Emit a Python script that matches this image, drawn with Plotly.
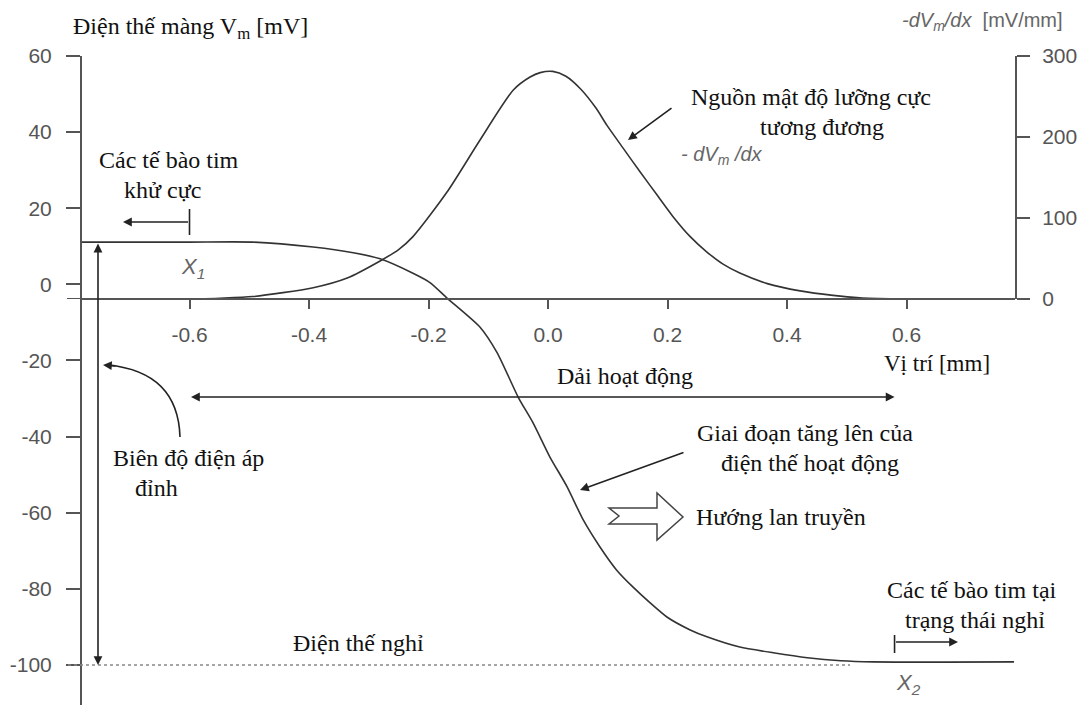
import plotly.graph_objects as go

# ---------------- data ----------------
# membrane potential Vm [mV] along position x [mm]
vm_x = [-0.78, -0.60, -0.494, -0.393, -0.326, -0.281, -0.226, -0.197, -0.169, -0.114,
        -0.085, -0.050, -0.025, 0.003, 0.032, 0.059, 0.087, 0.115, 0.142, 0.171,
        0.199, 0.238, 0.266, 0.321, 0.377, 0.434, 0.490, 0.544, 0.78]
vm_y = [11.1, 11.1, 11.1, 9.8, 8.3, 6.7, 2.9, 0.4, -3.6, -11.2,
        -18.0, -29.6, -36.4, -45.3, -53.2, -61.9, -69.0, -75.1, -79.5, -83.7,
        -87.4, -90.8, -92.6, -95.3, -96.8, -98.1, -98.9, -99.2, -99.2]

# equivalent dipole density source  -dVm/dx [mV/mm]
dv_x = [-0.600, -0.549, -0.494, -0.393, -0.336, -0.281, -0.250, -0.226, -0.169, -0.114,
        -0.058, -0.030, -0.013, 0.008, 0.030, 0.055, 0.080, 0.099, 0.126, 0.154,
        0.182, 0.209, 0.238, 0.266, 0.293, 0.321, 0.367, 0.422, 0.477, 0.522, 0.584]
dv_y = [0, 1, 3, 14, 26, 47, 61, 77, 132, 196,
        258, 274, 279.5, 281, 275, 259, 236, 214, 186, 157,
        129, 102, 77, 58, 43, 32, 19, 10, 4.5, 1.5, 0]

REST_POTENTIAL = -100          # mV
X1 = -0.60                     # mm, edge of active region (depolarized side)
X2 = 0.58                      # mm, edge of active region (resting side)
PLATEAU = 11.1                 # mV

x_ticks = [-0.6, -0.4, -0.2, 0.0, 0.2, 0.4, 0.6]
x_ticktext = ["-0.6", "-0.4", "-0.2", "0.0", "0.2", "0.4", "0.6"]
y_ticks = [60, 40, 20, 0, -20, -40, -60, -80, -100]
y_ticktext = ["60", "40", "20", "0", "-20", "-40", "-60", "-80", "-100"]
y2_ticks = [0, 100, 200, 300]
y2_ticktext = ["0", "100", "200", "300"]

# ---------------- geometry ----------------
W, H = 1079, 707
L, R, T, B = 82, 1015, 56, 705          # plot area in pixels
XR = [(L - 548.0) / 597.5, (R - 548.0) / 597.5]
Y_PX_PER = 3.806
YR = [60 - (B - T) / Y_PX_PER, 60]
Y2_BOTTOM_PX = 299
Y2_DOMAIN = [(B - Y2_BOTTOM_PX) / (B - T), 1.0]


def px2x(px):
    return XR[0] + (px - L) / (R - L) * (XR[1] - XR[0])


def py2y(py):
    return YR[1] - (py - T) / (B - T) * (YR[1] - YR[0])


def px2p(px):
    return (px - L) / (R - L)


def py2p(py):
    return (B - py) / (B - T)


SERIF = "Liberation Serif"
SANS = "Liberation Sans"
AX = "#555555"
CURVE = "#333333"
TXT = "#111111"
GRAY_TXT = "#666666"
FS = 24

fig = go.Figure()
fig.add_trace(go.Scatter(x=vm_x, y=vm_y, mode="lines", line=dict(color=CURVE, width=1.6, shape="spline", smoothing=0.6),
                         xaxis="x", yaxis="y", showlegend=False, hoverinfo="skip"))
fig.add_trace(go.Scatter(x=dv_x, y=dv_y, mode="lines", line=dict(color=CURVE, width=1.6, shape="spline", smoothing=0.7),
                         xaxis="x", yaxis="y2", showlegend=False, hoverinfo="skip"))

annotations = []


def text(px, py, s, size=FS, font=SERIF, color=TXT, xanchor="center"):
    annotations.append(dict(x=px2p(px), y=py2p(py), xref="paper", yref="paper", text=s, showarrow=False,
                            xanchor=xanchor, yanchor="middle",
                            font=dict(family=font, size=size, color=color)))


def arrow(x0, y0, x1, y1, both=False, width=1.6, head=2, size=1.1):
    a = dict(x=x1, y=y1, ax=x0, ay=y0, xref="x", yref="y", axref="x", ayref="y", text="",
             showarrow=True, arrowhead=head, arrowsize=size, arrowwidth=width, arrowcolor="#222222",
             standoff=0, startstandoff=0)
    if both:
        a.update(arrowside="end+start", startarrowhead=head, startarrowsize=size)
    annotations.append(a)


# axis titles
text(190, 28, "Điện thế màng V<sub>m</sub> [mV]")
text(982, 21, "<i>-dV<sub>m</sub>/dx</i>  [mV/mm]", size=20, font=SANS, color=GRAY_TXT)
text(937, 363, "Vị trí [mm]", size=23)

# labels
text(169, 160, "Các tế bào tim")
text(162, 190, "khử cực")
text(811, 97, "Nguồn mật độ lưỡng cực")
text(822, 127, "tương đương")
text(722, 156, "<i>- dV<sub>m</sub> /dx</i>", size=20, font=SANS, color=GRAY_TXT)
text(625, 376, "Dải hoạt động")
text(188, 458, "Biên độ điện áp")
text(156, 488, "đỉnh")
text(805, 433, "Giai đoạn tăng lên của")
text(810, 463, "điện thế hoạt động")
text(781, 517, "Hướng lan truyền")
text(972, 590, "Các tế bào tim tại")
text(975, 620, "trạng thái nghỉ")
text(358, 643, "Điện thế nghỉ")
text(193, 268, "<i>X<sub>1</sub></i>", size=22, font=SANS, color=GRAY_TXT)
text(908, 684, "<i>X<sub>2</sub></i>", size=22, font=SANS, color=GRAY_TXT)

# arrows
arrow(X1, py2y(397), X2, py2y(397), both=True)                       # active band
arrow(px2x(98), PLATEAU, px2x(98), REST_POTENTIAL, both=True)         # peak amplitude
arrow(X1, py2y(222), px2x(123), py2y(222))                           # depolarized cells
arrow(X2, py2y(642), px2x(958), py2y(642))                           # resting cells
arrow(px2x(673), py2y(107), px2x(628), py2y(140))                    # dipole source pointer
arrow(px2x(685), py2y(452), px2x(580), py2y(490))                    # upstroke pointer
# head of the curved arrow
annotations.append(dict(x=px2x(103), y=py2y(365), xref="x", yref="y", ax=14, ay=1, text="",
                        showarrow=True, arrowhead=2, arrowsize=1.1, arrowwidth=1.6, arrowcolor="#222222",
                        standoff=0))

shapes = []
# x axis line slightly extended past both y axes (as in the original)
shapes.append(dict(type="line", xref="paper", yref="y2", x0=px2p(67), x1=px2p(1028), y0=0, y1=0,
                   line=dict(color=AX, width=2)))
# bars at X1 / X2
shapes.append(dict(type="line", xref="x", yref="y", x0=X1, x1=X1, y0=py2y(209), y1=py2y(235),
                   line=dict(color="#222222", width=1.6)))
shapes.append(dict(type="line", xref="x", yref="y", x0=X2, x1=X2, y0=py2y(635), y1=py2y(653),
                   line=dict(color="#222222", width=1.6)))
# resting potential dotted line
shapes.append(dict(type="line", xref="paper", yref="y", x0=px2p(68), x1=px2p(850), y0=REST_POTENTIAL, y1=REST_POTENTIAL,
                   line=dict(color="#888888", width=1.5, dash="dot")))
# curved arrow body
shapes.append(dict(type="path", xref="x", yref="y",
                   path=f"M {px2x(180)} {py2y(437)} Q {px2x(178)} {py2y(372)} {px2x(108)} {py2y(365)}",
                   line=dict(color="#222222", width=1.6)))
# hollow block arrow (propagation direction)
pts = [(609, 508), (657, 508), (657, 493), (683, 517), (657, 540), (657, 524), (609, 524), (619, 516)]
path = "M " + " L ".join(f"{px2x(a)} {py2y(b)}" for a, b in pts) + " Z"
shapes.append(dict(type="path", xref="x", yref="y", path=path, fillcolor="white",
                   line=dict(color="#444444", width=1.5)))

fig.update_layout(
    width=W, height=H,
    margin=dict(l=L, r=W - R, t=T, b=H - B, autoexpand=False),
    paper_bgcolor="white", plot_bgcolor="rgba(0,0,0,0)",
    template="none",
    showlegend=False,
    annotations=annotations,
    shapes=shapes,
    xaxis=dict(range=XR, anchor="free", position=Y2_DOMAIN[0], side="bottom",
               showline=True, linecolor=AX, linewidth=2, showgrid=False, zeroline=False,
               ticks="outside", ticklen=9, tickwidth=1.5, tickcolor=AX,
               tickvals=x_ticks, ticktext=x_ticktext, ticklabelstandoff=8,
               tickfont=dict(family=SANS, size=21, color="#555555"), automargin=False),
    yaxis=dict(range=YR, anchor="x", side="left", position=0,
               showline=True, linecolor=AX, linewidth=2, showgrid=False, zeroline=False,
               ticks="outside", ticklen=14, tickwidth=1.5, tickcolor=AX,
               tickvals=y_ticks, ticktext=y_ticktext, ticklabelstandoff=10,
               tickfont=dict(family=SANS, size=21, color="#555555"), automargin=False),
    yaxis2=dict(range=[0, 300], domain=Y2_DOMAIN, anchor="x", side="right",
                showline=True, linecolor=AX, linewidth=2, showgrid=False, zeroline=False,
                ticks="outside", ticklen=13, tickwidth=1.5, tickcolor=AX,
                tickvals=y2_ticks, ticktext=y2_ticktext, ticklabelstandoff=8,
                tickfont=dict(family=SANS, size=21, color="#555555"), automargin=False),
)

fig.write_html("out.html")
